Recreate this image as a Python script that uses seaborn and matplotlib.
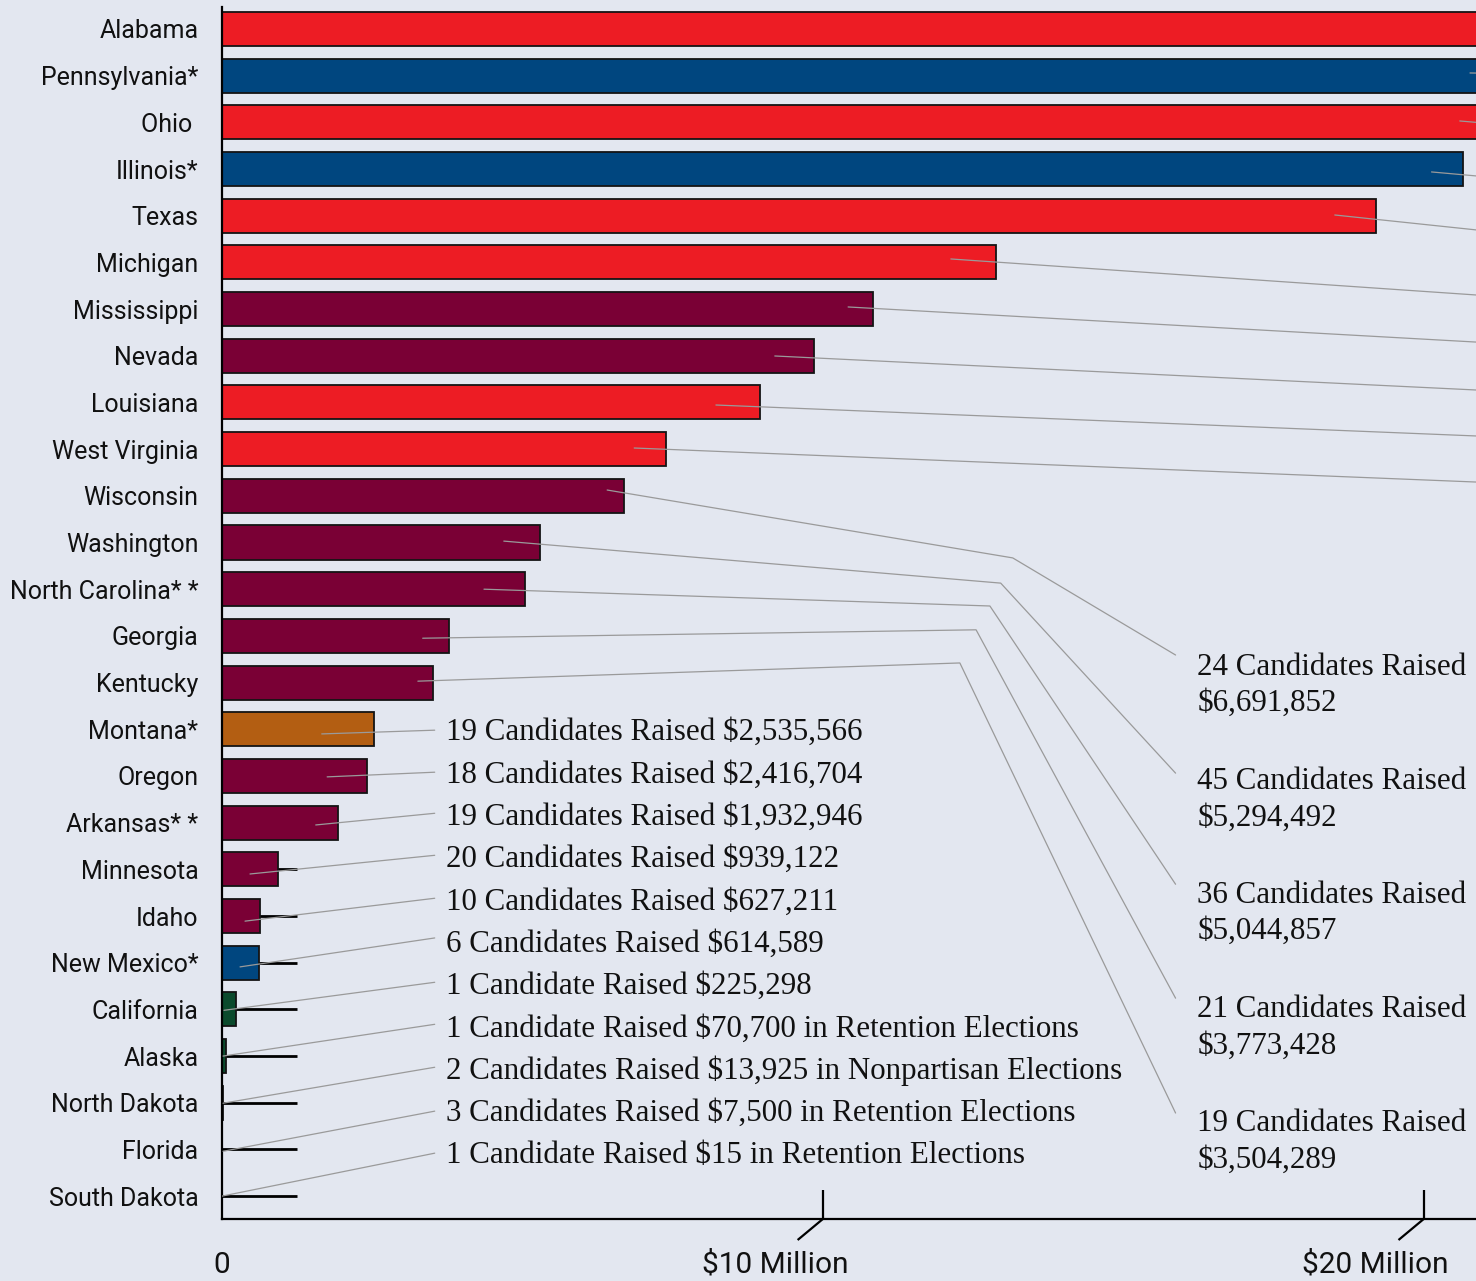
import matplotlib
matplotlib.use("Agg")
import matplotlib.pyplot as plt
import seaborn as sns
import pandas as pd

# ---------------- data ----------------
states = ["Alabama", "Pennsylvania*", "Ohio ", "Illinois*", "Texas", "Michigan",
          "Mississippi", "Nevada", "Louisiana", "West Virginia", "Wisconsin",
          "Washington", "North Carolina* *", "Georgia", "Kentucky", "Montana*",
          "Oregon", "Arkansas* *", "Minnesota", "Idaho", "New Mexico*",
          "California", "Alaska", "North Dakota", "Florida", "South Dakota"]
raised_millions = [40.95, 21.43, 21.00, 20.65, 19.20, 12.88, 10.83, 9.85, 8.95, 7.39,
                   6.691852, 5.294492, 5.044857, 3.773428, 3.504289, 2.535566,
                   2.416704, 1.932946, 0.939122, 0.627211, 0.614589, 0.225298,
                   0.070700, 0.013925, 0.007500, 0.000015]
groups = ["R", "D", "R", "D", "R", "R", "N", "N", "R", "R", "N", "N", "N", "N", "N",
          "M", "N", "N", "N", "N", "D", "G", "G", "N", "G", "G"]
palette = {"R": "#ED1C24", "D": "#00467F", "N": "#7A0035", "M": "#B35E12", "G": "#0B4A2C"}

right_labels = ["24 Candidates Raised\n$6,691,852", "45 Candidates Raised\n$5,294,492",
                "36 Candidates Raised\n$5,044,857", "21 Candidates Raised\n$3,773,428",
                "19 Candidates Raised\n$3,504,289"]
lower_labels = ["19 Candidates Raised $2,535,566", "18 Candidates Raised $2,416,704",
                "19 Candidates Raised $1,932,946", "20 Candidates Raised $939,122",
                "10 Candidates Raised $627,211", "6 Candidates Raised $614,589",
                "1 Candidate Raised $225,298",
                "1 Candidate Raised $70,700 in Retention Elections",
                "2 Candidates Raised $13,925 in Nonpartisan Elections",
                "3 Candidates Raised $7,500 in Retention Elections",
                "1 Candidate Raised $15 in Retention Elections"]
x_tick_values = [10, 20]
x_tick_labels = ["$10 Million", "$20 Million"]

df = pd.DataFrame({"state": states, "raised": raised_millions, "group": groups})

# ---------------- style ----------------
BG = "#E3E7F0"
sns.set_theme(style="white")
plt.rcParams["font.family"] = ["Roboto", "DejaVu Sans"]
plt.rcParams["axes.facecolor"] = BG
plt.rcParams["figure.facecolor"] = BG

fig = plt.figure(figsize=(14.76, 12.81), dpi=100)
ax = fig.add_axes([222 / 1476, 62 / 1281, 1 - 222 / 1476, (1219 - 7) / 1281])

# black stubs behind the small bars
for i in range(18, 26):
    ax.plot([0, 1.25], [i, i], color="black", lw=2.0, zorder=1, solid_capstyle="butt")

sns.barplot(data=df, x="raised", y="state", hue="group", palette=palette,
            order=states, dodge=False, legend=False, width=0.73,
            edgecolor="#141414", linewidth=1.3, saturation=1, ax=ax, zorder=2)

ax.set_xlim(0, 20.87)
ax.set_ylim(25.49, -0.47)
ax.set_xlabel("")
ax.set_ylabel("")

for s in ["top", "right"]:
    ax.spines[s].set_visible(False)
for s in ["left", "bottom"]:
    ax.spines[s].set_color("black")
    ax.spines[s].set_linewidth(1.6)

ax.set_yticks(range(len(states)))
ax.set_yticklabels(states, fontsize=18, color="#111111")
ax.tick_params(axis="y", length=0, pad=17)
ax.set_xticks(x_tick_values)
ax.set_xticklabels([])
ax.tick_params(axis="x", bottom=True, direction="in", length=21, width=1.6,
               color="black")

# x labels with slashes
for xv, lab in zip(x_tick_values, x_tick_labels):
    ax.plot([xv, xv - 0.42], [25.49, 25.94], color="black", lw=1.6, clip_on=False,
            solid_capstyle="butt")
    ax.text(xv - 0.8, 26.47, lab, ha="center", va="center", fontsize=21.5,
            color="#111111")
ax.text(0, 26.47, "0", ha="center", va="center", fontsize=21.5, color="#111111")

LC = "#9A9A9A"
LW = 0.9
# leader lines of the top ten (labels off to the right)
top_lines = [
    ((20.77, 0.943), (22.93, 0.985)),
    ((20.60, 1.971), (22.93, 2.228)),
    ((20.13, 3.063), (22.93, 3.385)),
    ((18.52, 3.985), (22.93, 4.584)),
    ((12.13, 4.927), (22.93, 5.880)),
    ((10.42, 5.955), (22.93, 6.855)),
    ((9.20, 7.005), (22.93, 7.862)),
    ((8.22, 8.055), (22.93, 8.826)),
    ((6.86, 8.976), (22.93, 9.812)),
]
for (x0, y0), (x1, y1) in top_lines:
    ax.plot([x0, x1], [y0, y1], color=LC, lw=LW, zorder=3)

# elbow leader lines to right labels
mid_lines = [
    [(6.41, 9.876), (13.16, 11.33), (15.87, 13.41)],
    [(4.69, 10.97), (12.96, 11.87), (15.87, 15.94)],
    [(4.36, 12.00), (12.78, 12.36), (15.87, 18.32)],
    [(3.34, 13.05), (12.55, 12.87), (15.87, 20.76)],
    [(3.26, 13.97), (12.28, 13.58), (15.87, 23.22)],
]
right_label_y = [14.06, 16.51, 18.95, 21.40, 23.84]
SERIF = ["Liberation Serif", "DejaVu Serif"]
for pts, lab, ly in zip(mid_lines, right_labels, right_label_y):
    ax.plot([p[0] for p in pts], [p[1] for p in pts], color=LC, lw=LW, zorder=3)
    ax.text(16.23, ly, lab, ha="left", va="center", fontsize=22.3,
            family=SERIF, color="#111111", linespacing=1.33)

# lower labels
low_lines = [
    ((1.66, 15.10), 15.02), ((1.75, 16.02), 15.92), ((1.56, 17.05), 16.80),
    ((0.466, 18.10), 17.70), ((0.383, 19.11), 18.62), ((0.30, 20.09), 19.47),
    ((0.033, 21.02), 20.42), ((0.017, 22.00), 21.32), ((0.017, 23.01), 22.24),
    ((0.017, 24.04), 23.18), ((0.0, 25.00), 24.08),
]
lower_label_y = [15.06, 15.98, 16.88, 17.78, 18.70, 19.60, 20.50, 21.42, 22.32,
                 23.22, 24.14]
for ((x0, y0), y1), lab, ly in zip(low_lines, lower_labels, lower_label_y):
    ax.plot([x0, 3.54], [y0, y1], color=LC, lw=LW, zorder=3)
    ax.text(3.73, ly, lab, ha="left", va="center", fontsize=22.3,
            family=SERIF, color="#111111")

fig.savefig("out.png", dpi=100, facecolor=BG)
